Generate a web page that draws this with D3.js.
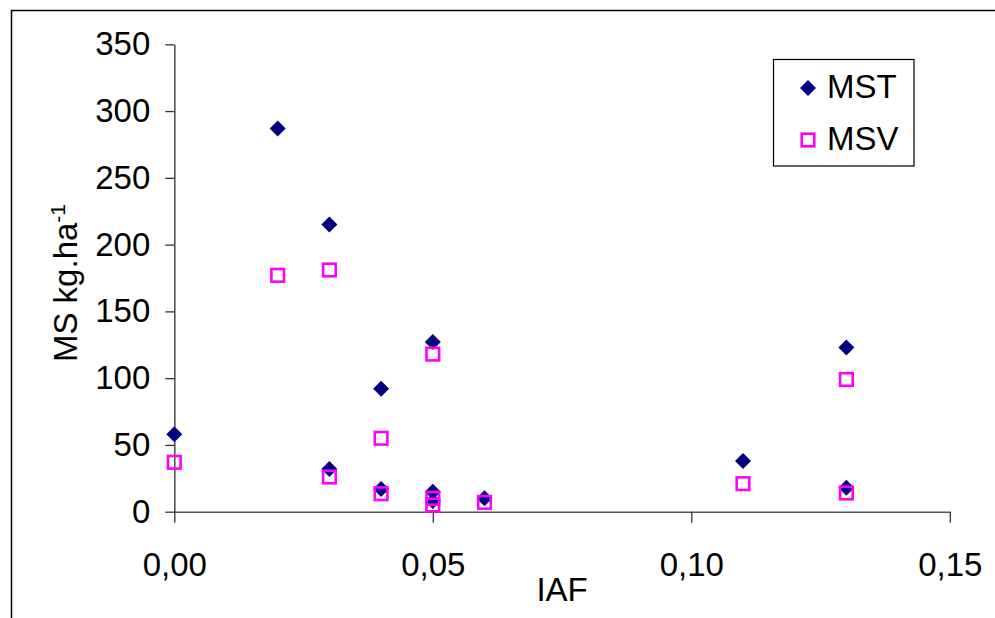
<!DOCTYPE html>
<html>
<head>
<meta charset="utf-8">
<script src="https://cdn.jsdelivr.net/npm/d3@7"></script>
<style>
  body { margin: 0; background: #fff; }
  text { font-family: "Liberation Sans", Arial, sans-serif; fill: #000; }
</style>
</head>
<body>
<script>
// IAF on x, dry matter (kg/ha) on y
var iaf = [0.00, 0.02, 0.03, 0.03, 0.04, 0.04, 0.05, 0.05, 0.05, 0.06, 0.11, 0.13, 0.13];
var mst = [58, 287, 215, 32, 92, 17, 127, 15, 8, 10, 38, 123, 18];
var msv = [37, 177, 181, 26, 55, 13.5, 118, 10, 5, 7, 21, 99, 14];
var seriesNames = ["MST", "MSV"];
var xTicks = [0, 0.05, 0.10, 0.15];
var yTicks = [0, 50, 100, 150, 200, 250, 300, 350];

var W = 995, H = 618;
var fs = 33;

var svg = d3.select("body").append("svg")
    .attr("width", W)
    .attr("height", H);

// outer chart frame (runs off right/bottom edge like the original)
svg.append("rect")
    .attr("x", 11.5).attr("y", 10.5)
    .attr("width", 1000).attr("height", 700)
    .attr("fill", "none")
    .attr("stroke", "#000")
    .attr("stroke-width", 1.5);

var x = d3.scaleLinear().domain([0, 0.15]).range([174.3, 949.8]);
var y = d3.scaleLinear().domain([0, 350]).range([511.7, 44.3]);

var comma = d3.formatLocale({decimal: ",", thousands: ".", grouping: [3], currency: ["", ""]});
var fmtX = comma.format(".2f");

var gx = svg.append("g")
    .attr("transform", "translate(0," + y(0) + ")")
    .call(d3.axisBottom(x).tickValues(xTicks).tickFormat(fmtX)
      .tickSize(11).tickSizeOuter(0).tickPadding(30));
var gy = svg.append("g")
    .attr("transform", "translate(" + x(0) + ",0)")
    .call(d3.axisLeft(y).tickValues(yTicks)
      .tickSize(9).tickSizeOuter(0).tickPadding(15));

[gx, gy].forEach(function(g){
  g.select(".domain").attr("stroke", "#555").attr("stroke-width", 1.6);
  g.selectAll(".tick line").attr("stroke", "#333").attr("stroke-width", 1.3);
  g.selectAll(".tick text")
    .attr("font-size", fs)
    .attr("font-family", "Liberation Sans, Arial, sans-serif")
    .attr("fill", "#000");
});

// axis titles
svg.append("text")
    .attr("x", (x(0) + x(0.15)) / 2)
    .attr("y", 601)
    .attr("text-anchor", "middle")
    .attr("font-size", fs)
    .text("IAF");

var yt = svg.append("text")
    .attr("transform", "translate(77," + ((y(0) + y(350)) / 2 + 5) + ") rotate(-90)")
    .attr("text-anchor", "middle")
    .attr("font-size", fs);
yt.append("tspan").text("MS kg.ha");
yt.append("tspan").attr("dy", -12).attr("font-size", 21).text("-1");

var rows = iaf.map(function(v, i){ return {x: v, a: mst[i], b: msv[i]}; });

svg.append("g").selectAll("path")
  .data(rows)
  .join("path")
    .attr("d", d3.symbol().type(d3.symbolSquare).size(200))
    .attr("transform", function(d){ return "translate(" + x(d.x) + "," + y(d.a) + ") rotate(45) scale(0.8)"; })
    .attr("fill", "#000080");

svg.append("g").selectAll("rect")
  .data(rows)
  .join("rect")
    .attr("x", function(d){ return x(d.x) - 6.3; })
    .attr("y", function(d){ return y(d.b) - 6.3; })
    .attr("width", 12.6).attr("height", 12.6)
    .attr("fill", "none")
    .attr("stroke", "#ff00ff")
    .attr("stroke-width", 2.6);

// legend
var lg = svg.append("g");
lg.append("rect")
    .attr("x", 773.5).attr("y", 59.5)
    .attr("width", 140.5).attr("height", 106.5)
    .attr("fill", "#fff")
    .attr("stroke", "#000")
    .attr("stroke-width", 1.2);
lg.append("path")
    .attr("d", d3.symbol().type(d3.symbolSquare).size(200))
    .attr("transform", "translate(808,88) rotate(45) scale(0.8)")
    .attr("fill", "#000080");
lg.append("rect")
    .attr("x", 801.7).attr("y", 133.7)
    .attr("width", 12.6).attr("height", 12.6)
    .attr("fill", "none")
    .attr("stroke", "#ff00ff")
    .attr("stroke-width", 2.6);
lg.selectAll("text.lbl")
  .data(seriesNames)
  .join("text")
    .attr("class", "lbl")
    .attr("x", 827)
    .attr("y", function(d, i){ return 98 + i * 52; })
    .attr("font-size", fs)
    .text(function(d){ return d; });
</script>
</body>
</html>
